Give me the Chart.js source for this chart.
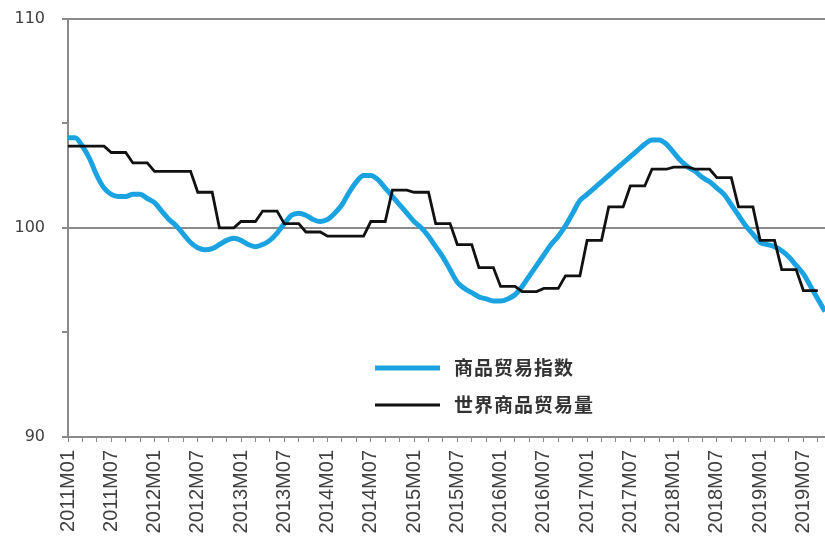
<!DOCTYPE html>
<html>
<head>
<meta charset="utf-8">
<script src="https://cdn.jsdelivr.net/npm/chart.js@4.4.0/dist/chart.umd.min.js"></script>
<style>
  html, body { margin: 0; padding: 0; background: #fff; overflow: hidden; }
  #wrap { width: 825px; height: 536px; overflow: hidden; position: relative; }
  #tradeChart { position: absolute; left: 0; top: -8px; }
</style>
</head>
<body>
<div id="wrap"><canvas id="tradeChart" width="857" height="544"></canvas></div>
<script>
// month categories 2011M01 .. 2019M10
const years = [2011, 2012, 2013, 2014, 2015, 2016, 2017, 2018, 2019];
const lastMonth = 10;
const monthLabels = [];
years.forEach((yr) => {
    for (let m = 1; m <= 12; m++) {
        if (yr === 2019 && m > lastMonth) break;
        monthLabels.push(yr + "M" + String(m).padStart(2, "0"));
    }
});

const seriesNames = ["商品贸易指数", "世界商品贸易量"];

// 商品贸易指数 (monthly, smooth)
const goodsTradeIndex = [
    104.3, 104.3, 103.9, 103.3, 102.5, 101.9, 101.6, 101.5, 101.5, 101.6, 101.6, 101.4,
    101.2, 100.8, 100.4, 100.1, 99.7, 99.3, 99.05, 98.95, 99.0, 99.2, 99.4, 99.5,
    99.4, 99.2, 99.1, 99.2, 99.4, 99.75, 100.2, 100.6, 100.7, 100.6, 100.4, 100.3,
    100.4, 100.7, 101.1, 101.7, 102.2, 102.5, 102.5, 102.3, 101.9, 101.5, 101.1, 100.7,
    100.3, 100.0, 99.6, 99.1, 98.6, 98.0, 97.4, 97.1, 96.9, 96.7, 96.6, 96.5,
    96.5, 96.6, 96.8, 97.2, 97.7, 98.2, 98.7, 99.2, 99.6, 100.1, 100.7, 101.3,
    101.6, 101.9, 102.2, 102.5, 102.8, 103.1, 103.4, 103.7, 104.0, 104.2, 104.2, 104.0,
    103.6, 103.2, 102.9, 102.7, 102.4, 102.2, 101.9, 101.6, 101.1, 100.6, 100.1, 99.7,
    99.3, 99.2, 99.1, 98.9, 98.6, 98.2, 97.8, 97.2, 96.6, 96.0
];

// 世界商品贸易量 (monthly, quarterly steps)
const worldTradeVolume = [
    103.9, 103.9, 103.9, 103.9, 103.9, 103.9, 103.6, 103.6, 103.6, 103.1, 103.1, 103.1,
    102.7, 102.7, 102.7, 102.7, 102.7, 102.7, 101.7, 101.7, 101.7, 100.0, 100.0, 100.0,
    100.3, 100.3, 100.3, 100.8, 100.8, 100.8, 100.2, 100.2, 100.2, 99.8, 99.8, 99.8,
    99.6, 99.6, 99.6, 99.6, 99.6, 99.6, 100.3, 100.3, 100.3, 101.8, 101.8, 101.8,
    101.7, 101.7, 101.7, 100.2, 100.2, 100.2, 99.2, 99.2, 99.2, 98.1, 98.1, 98.1,
    97.2, 97.2, 97.2, 96.95, 96.95, 96.95, 97.1, 97.1, 97.1, 97.7, 97.7, 97.7,
    99.4, 99.4, 99.4, 101.0, 101.0, 101.0, 102.0, 102.0, 102.0, 102.8, 102.8, 102.8,
    102.9, 102.9, 102.9, 102.8, 102.8, 102.8, 102.4, 102.4, 102.4, 101.0, 101.0, 101.0,
    99.4, 99.4, 99.4, 98.0, 98.0, 98.0, 97.0, 97.0, 97.0, null
];

const yShownTicks = [90, 100, 110];
const yGridValues = [100, 110];

const axisGray = "#8a8a8a";
const textGray = "#404040";

// legend drawn inside the plot, below the curves
const insideLegend = {
    id: "insideLegend",
    afterDatasetsDraw(chart) {
        const c = chart.ctx;
        const rows = [376, 413];
        c.save();
        chart.data.datasets.forEach((ds, i) => {
            const y = rows[i];
            c.strokeStyle = ds.borderColor;
            c.lineWidth = ds.borderWidth;
            c.lineCap = "butt";
            c.beginPath();
            c.moveTo(375, y);
            c.lineTo(440, y);
            c.stroke();
            c.fillStyle = "#333";
            c.font = "bold 19px 'Noto Sans CJK SC'";
            c.letterSpacing = "1px";
            c.textBaseline = "middle";
            c.textAlign = "left";
            c.fillText(ds.label, 454, y);
        });
        c.restore();
    },
};

const ctx = document.getElementById("tradeChart").getContext("2d");

const chart = new Chart(ctx, {
    type: "line",
    data: {
        labels: monthLabels,
        datasets: [
            {
                label: seriesNames[0],
                data: goodsTradeIndex,
                borderColor: "#1aa3e0",
                borderWidth: 5,
                pointRadius: 0,
                fill: false,
                cubicInterpolationMode: "monotone",
                order: 2,
            },
            {
                label: seriesNames[1],
                data: worldTradeVolume,
                borderColor: "#111111",
                borderWidth: 2.8,
                pointRadius: 0,
                fill: false,
                tension: 0,
                order: 1,
            },
        ],
    },
    options: {
        responsive: false,
        animation: false,
        layout: { padding: { top: 10, left: 0, right: 0, bottom: 0 } },
        plugins: {
            legend: { display: false },
            tooltip: { enabled: false },
        },
        scales: {
            x: {
                offset: false,
                afterFit: (scale) => { scale.height = 99; },
                border: { color: axisGray, width: 2 },
                grid: {
                    drawOnChartArea: false,
                    tickLength: 5,
                    tickColor: (c) => (c.index % 2 === 0 ? axisGray : "rgba(0,0,0,0)"),
                },
                ticks: {
                    autoSkip: false,
                    maxRotation: 90,
                    minRotation: 90,
                    padding: 8,
                    color: textGray,
                    font: { family: "'Liberation Sans'", size: 20 },
                    callback: (v, i) => (i % 6 === 0 ? monthLabels[i] : ""),
                },
            },
            y: {
                min: 90,
                max: 110,
                afterFit: (scale) => { scale.width = 68; },
                border: { color: axisGray, width: 2 },
                grid: {
                    lineWidth: 2,
                    tickLength: 6,
                    tickColor: axisGray,
                    color: (c) => (c.tick && yGridValues.includes(c.tick.value) ? axisGray : "rgba(0,0,0,0)"),
                },
                ticks: {
                    stepSize: 5,
                    padding: 17,
                    color: textGray,
                    font: { family: "'DejaVu Sans'", size: 16 },
                    callback: (v) => (yShownTicks.includes(v) ? String(v) : ""),
                },
            },
        },
    },
    plugins: [insideLegend],
});
</script>
</body>
</html>
